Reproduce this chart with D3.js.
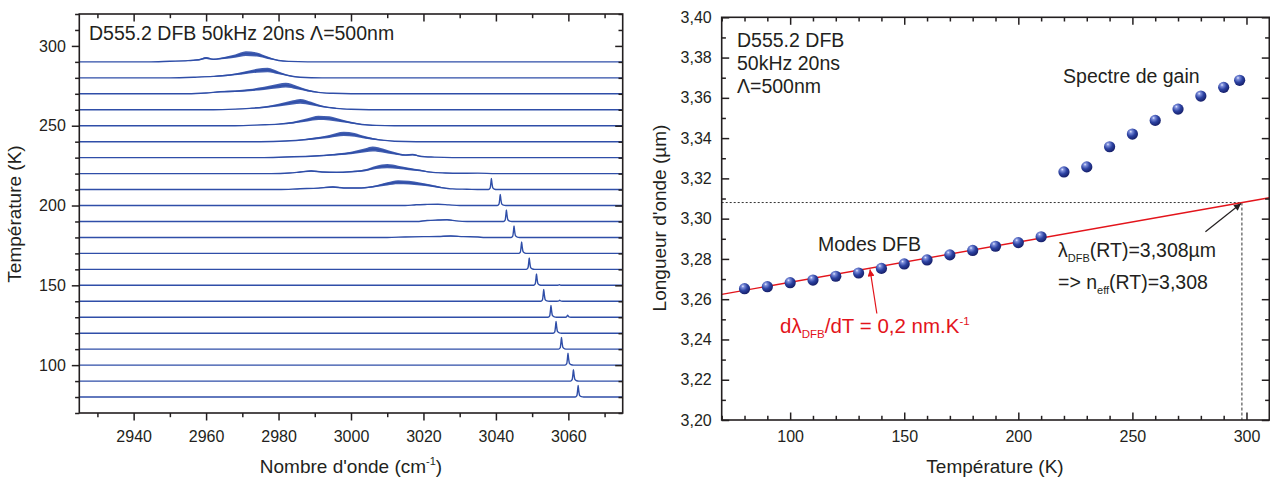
<!DOCTYPE html>
<html><head><meta charset="utf-8">
<script src="https://cdn.jsdelivr.net/npm/d3@7"></script>
<style>
body{margin:0;background:#fff}
text{font-family:"Liberation Sans",Arial,Helvetica,sans-serif;fill:#231f20}
</style></head>
<body><svg id="c" width="1270" height="477"></svg>
<script>
// ---------------- DATA (left panel: spectra vs temperature) ----------------
const spectraT = [80,90,100,110,120,130,140,150,160,170,180,190,200,210,220,230,240,250,260,270,280,290];
// DFB laser peaks: temperature, wavenumber (cm-1), height (K offset units)
const dfbPeakT   = [80,90,100,110,120,130,140,150,160,170,180,190,200,210];
const dfbPeakWn  = [3062.7,3061.4,3059.9,3058.1,3056.6,3055.2,3053.2,3051.2,3049.2,3047.1,3045.0,3042.9,3041.2,3038.75];
const dfbPeakAmp = [7.2,7.2,7.4,7.4,7.4,7.4,7.4,7.2,7.2,7.2,7.2,7.2,7.0,6.9];
// weak side modes
const sideT   = [130,140,150];
const sideWn  = [3059.8,3057.6,3057.5];
const sideAmp = [1.3,0.6,0.4];
// lineshape of a laser peak (offset cm-1, relative height)
const peakShape = [[-0.8,0],[-0.35,0.12],[-0.12,0.65],[0,1],[0.15,0.6],[0.4,0.15],[0.9,0.03],[1.5,0]];
// broad gain spectra envelopes [wavenumber, amplitude]
const band290 = [[2944,0],[2950,0.4],[2955,0.8],[2958,1.3],[2960,2.4],[2962,1.6],[2965,2.4],[2968,3.6],[2971,5.2],[2974,4.6],[2977,2.6],[2980,0.9],[2983,0.3],[2988,0]];
const band280 = [[2950,0],[2957,0.4],[2962,0.9],[2966,1.6],[2970,2.9],[2974,4.4],[2977,4.9],[2980,3.1],[2983,1.3],[2986,0.4],[2992,0]];
const band270 = [[2955,0],[2960,0.5],[2964,1.3],[2968,1.6],[2972,2.3],[2976,3.4],[2980,4.9],[2982,5.4],[2985,3.9],[2988,2.1],[2991,0.9],[2995,0.3],[3000,0]];
const band260 = [[2962,0],[2968,0.4],[2972,0.9],[2976,1.6],[2980,2.9],[2984,4.6],[2986,5.3],[2989,3.9],[2992,2.1],[2996,0.9],[3000,0.3],[3005,0]];
const band250 = [[2968,0],[2975,0.5],[2980,1.0],[2984,1.9],[2988,3.6],[2991,4.9],[2994,4.6],[2997,3.3],[3000,1.9],[3003,0.8],[3007,0.2],[3012,0]];
const band240 = [[2975,0],[2982,0.4],[2987,1.2],[2990,2.0],[2994,3.3],[2998,4.9],[3001,4.3],[3004,2.6],[3008,1.1],[3012,0.3],[3018,0]];
const band230 = [[2975,0],[2982,0.4],[2990,1.0],[2995,1.8],[3000,2.9],[3004,4.6],[3006,5.4],[3009,4.3],[3012,2.7],[3015,1.6],[3017,1.9],[3019,0.9],[3023,0.3],[3028,0]];
const band220 = [[2978,0],[2983,0.4],[2986,1.0],[2989,1.6],[2992,1.0],[2996,0.8],[3000,1.2],[3004,2.1],[3007,3.9],[3010,4.7],[3013,3.9],[3016,2.9],[3019,2.0],[3022,0.9],[3026,0.4],[3030,0.2],[3035,0.3],[3040,0]];
const band210 = [[2980,0],[2986,0.5],[2991,0.9],[2995,1.6],[2998,1.0],[3002,1.0],[3006,1.8],[3010,3.6],[3013,4.6],[3016,4.3],[3019,3.5],[3022,2.5],[3025,1.2],[3028,0.4],[3032,0.2],[3036,0]];
const band200 = [[3015,0],[3018,0.5],[3021,0.7],[3024,0.8],[3027,0.4],[3030,0]];
const band190 = [[3018,0],[3021,0.6],[3024,0.9],[3026.5,1.1],[3029,0.4],[3032,0]];
const band180 = [[3010,0],[3015,0.3],[3020,0.5],[3024,0.6],[3027.5,0.9],[3031,0.5],[3035,0.3],[3037,0]];
const leftXTicks = [2940,2960,2980,3000,3020,3040,3060];
const leftXMinor = [2930,2950,2970,2990,3010,3030,3050,3070];
const leftYTicks = [100,150,200,250,300];
const leftYMinor = [70,80,90,110,120,130,140,160,170,180,190,210,220,230,240,260,270,280,290,310,320];

// ---------------- DATA (right panel: wavelength vs temperature) ----------------
const dfbT = [80,90,100,110,120,130,140,150,160,170,180,190,200,210];
const dfbLambda = [3.2652,3.2662,3.2682,3.2695,3.2714,3.2730,3.2753,3.2775,3.2795,3.2820,3.2842,3.2863,3.2881,3.2910];
const gainT = [220,230,240,250,260,270,280,290,297];
const gainLambda = [3.3232,3.3257,3.3357,3.3420,3.3488,3.3544,3.3609,3.3652,3.3687];
const fitT = [70,310];
const fitLambda = [3.2624,3.3104];
const rtT = 298, rtLambda = 3.308;
const rightXTicks = [100,150,200,250,300];
const rightXMinor = [70,80,90,110,120,130,140,160,170,180,190,210,220,230,240,260,270,280,290,310];
const rightYTicks = [3.20,3.22,3.24,3.26,3.28,3.30,3.32,3.34,3.36,3.38,3.40];
const rightYMinor = [3.21,3.23,3.25,3.27,3.29,3.31,3.33,3.35,3.37,3.39];

// ---------------- DRAWING ----------------
const svg = d3.select('#c');
const INK = '#231f20', BLUE = '#2f4ea8', RED = '#e3141b';
const TICKFS = 16, TITLEFS = 19, ANNFS = 19.5;

const defs = svg.append('defs');
const grad = defs.append('radialGradient').attr('id','ball').attr('cx','38%').attr('cy','32%').attr('r','70%').attr('fx','35%').attr('fy','28%');
grad.append('stop').attr('offset','0%').attr('stop-color','#e8ecff');
grad.append('stop').attr('offset','18%').attr('stop-color','#7f90dc');
grad.append('stop').attr('offset','55%').attr('stop-color','#2c42a2');
grad.append('stop').attr('offset','100%').attr('stop-color','#151d66');
function marker(id, col){
  defs.append('marker').attr('id',id).attr('viewBox','0 0 10 10').attr('refX',10).attr('refY',5)
    .attr('markerWidth',10).attr('markerHeight',7).attr('markerUnits','userSpaceOnUse').attr('orient','auto')
    .append('path').attr('d','M0,0L10,5L0,10z').attr('fill',col);
}
marker('ahRed',RED); marker('ahBlack',INK);

function styleAxis(sel, fs){
  sel.attr('color',INK);
  sel.select('.domain').remove();
  sel.selectAll('.tick line').attr('stroke',INK).attr('stroke-width',1.5);
  sel.selectAll('.tick text').attr('font-size',fs).attr('fill',INK)
     .attr('font-family','"Liberation Sans",Arial,sans-serif');
}
function frame(g, x, y, c){
  const [x0,x1] = x.range(), [y0,y1] = y.range();
  const bs = c.bottomOut ? 1 : -1, ls = c.leftOut ? 1 : -1;
  g.append('rect').attr('x',x0).attr('y',y1).attr('width',x1-x0).attr('height',y0-y1)
    .attr('fill','none').attr('stroke',INK).attr('stroke-width',1.6);
  g.append('g').attr('transform',`translate(0,${y0})`)
    .call(d3.axisBottom(x).tickValues(c.xMajor).tickSize(7.5*bs).tickPadding(c.padX).tickFormat(c.fmtX)).call(styleAxis,TICKFS);
  g.append('g').attr('transform',`translate(0,${y0})`)
    .call(d3.axisBottom(x).tickValues(c.xMinor).tickSize(4.2*bs).tickFormat('')).call(styleAxis,TICKFS);
  g.append('g').attr('transform',`translate(0,${y1})`)
    .call(d3.axisTop(x).tickValues(c.xMajor).tickSize(-7.5).tickFormat('')).call(styleAxis,TICKFS);
  g.append('g').attr('transform',`translate(0,${y1})`)
    .call(d3.axisTop(x).tickValues(c.xMinor).tickSize(-4.2).tickFormat('')).call(styleAxis,TICKFS);
  g.append('g').attr('transform',`translate(${x0},0)`)
    .call(d3.axisLeft(y).tickValues(c.yMajor).tickSize(7.5*ls).tickPadding(c.padY).tickFormat(c.fmtY)).call(styleAxis,TICKFS);
  g.append('g').attr('transform',`translate(${x0},0)`)
    .call(d3.axisLeft(y).tickValues(c.yMinor).tickSize(4.2*ls).tickFormat('')).call(styleAxis,TICKFS);
  g.append('g').attr('transform',`translate(${x1},0)`)
    .call(d3.axisRight(y).tickValues(c.yMajor).tickSize(-7.5).tickFormat('')).call(styleAxis,TICKFS);
  g.append('g').attr('transform',`translate(${x1},0)`)
    .call(d3.axisRight(y).tickValues(c.yMinor).tickSize(-4.2).tickFormat('')).call(styleAxis,TICKFS);
}

// ===== Left panel =====
const xL = d3.scaleLinear().domain([2925,3075]).range([79.3,622.7]);
const yL = d3.scaleLinear().domain([70,320]).range([413,14]);
const gL = svg.append('g');
const bands = new Map([[290,band290],[280,band280],[270,band270],[260,band260],[250,band250],[240,band240],[230,band230],[220,band220],[210,band210],[200,band200],[190,band190],[180,band180]]);
const lineL = d3.line().curve(d3.curveMonotoneX);
spectraT.slice().reverse().forEach(T => {
  let pts = [[2925,0],[3075,0]];
  const band = bands.get(T) || [];
  pts = pts.concat(band);
  const pi = dfbPeakT.indexOf(T);
  if (pi >= 0) peakShape.forEach(([o,r]) => pts.push([dfbPeakWn[pi]+o, dfbPeakAmp[pi]*r]));
  sideT.forEach((t,i) => { if (t===T) peakShape.forEach(([o,r]) => pts.push([sideWn[i]+o, sideAmp[i]*r])); });
  pts.sort((a,b)=>a[0]-b[0]);
  pts = pts.filter((p,i)=> i===0 || p[0] !== pts[i-1][0]);
  // noise band of broad spectra (drawn as a filled envelope)
  if (band.length){
    const area = d3.area().curve(d3.curveMonotoneX)
      .x(d=>xL(d[0])).y0(d=>yL(T + d[1]*0.72)).y1(d=>yL(T + d[1]*1.28));
    gL.append('path').attr('d',area(band)).attr('fill',BLUE).attr('fill-opacity',0.9);
  }
  gL.append('path').attr('d',lineL(pts.map(d=>[xL(d[0]),yL(T+d[1])])))
    .attr('fill','none').attr('stroke',BLUE).attr('stroke-width',1.4).attr('stroke-linejoin','round');
});
frame(gL, xL, yL, {bottomOut:true,leftOut:true,xMajor:leftXTicks,xMinor:leftXMinor,yMajor:leftYTicks,yMinor:leftYMinor,
  padX:10,padY:6,fmtX:d3.format('d'),fmtY:d3.format('d')});
gL.append('text').attr('x',89).attr('y',40).attr('font-size',ANNFS).text('D555.2 DFB 50kHz 20ns Λ=500nm');
gL.append('text').attr('transform','translate(21,214) rotate(-90)').attr('text-anchor','middle').attr('font-size',TITLEFS).text('Température (K)');
const tL = gL.append('text').attr('x',351).attr('y',473).attr('text-anchor','middle').attr('font-size',TITLEFS);
tL.append('tspan').text("Nombre d'onde (cm");
tL.append('tspan').attr('dy',-8).attr('font-size',11).text('-1');
tL.append('tspan').attr('dy',8).text(')');

// ===== Right panel =====
const xR = d3.scaleLinear().domain([70,310]).range([721.7,1269.3]);
const yR = d3.scaleLinear().domain([3.20,3.40]).range([420,17.3]);
const gR = svg.append('g');
defs.append('clipPath').attr('id','clipR').append('rect')
  .attr('x',721.7).attr('y',17.3).attr('width',547.6).attr('height',402.7);
// dotted guides
gR.append('line').attr('x1',xR(70)).attr('x2',xR(rtT)).attr('y1',yR(rtLambda)).attr('y2',yR(rtLambda))
  .attr('stroke','#333').attr('stroke-width',1).attr('stroke-dasharray','2,2');
gR.append('line').attr('x1',xR(rtT)).attr('x2',xR(rtT)).attr('y1',yR(rtLambda)).attr('y2',yR(3.20))
  .attr('stroke','#333').attr('stroke-width',1).attr('stroke-dasharray','3,2');
// fit line
gR.append('line').attr('clip-path','url(#clipR)')
  .attr('x1',xR(fitT[0])).attr('y1',yR(fitLambda[0])).attr('x2',xR(fitT[1])).attr('y2',yR(fitLambda[1]))
  .attr('stroke',RED).attr('stroke-width',1.4);
// points
const allPts = dfbT.map((t,i)=>[t,dfbLambda[i]]).concat(gainT.map((t,i)=>[t,gainLambda[i]]));
gR.selectAll('circle.pt').data(allPts).join('circle').attr('class','pt')
  .attr('cx',d=>xR(d[0])).attr('cy',d=>yR(d[1])).attr('r',5.6).attr('fill','url(#ball)');
frame(gR, xR, yR, {bottomOut:false,leftOut:false,xMajor:rightXTicks,xMinor:rightXMinor,yMajor:rightYTicks,yMinor:rightYMinor,
  padX:11,padY:10,fmtX:d3.format('d'),fmtY:d=>d.toFixed(2).replace('.',',')});
// arrows
gR.append('line').attr('x1',xR(138)).attr('y1',yR(3.2529)).attr('x2',xR(135)).attr('y2',yR(3.2748))
  .attr('stroke',RED).attr('stroke-width',1.2).attr('marker-end','url(#ahRed)');
gR.append('line').attr('x1',xR(282)).attr('y1',yR(3.2935)).attr('x2',xR(297.6)).attr('y2',yR(3.3075))
  .attr('stroke',INK).attr('stroke-width',1.2).attr('marker-end','url(#ahBlack)');
// annotations
[['D555.2 DFB',47],['50kHz 20ns',70],['Λ=500nm',93]].forEach(([s,yy])=>
  gR.append('text').attr('x',737).attr('y',yy).attr('font-size',ANNFS).text(s));
gR.append('text').attr('x',xR(219.6)).attr('y',yR(3.3672)).attr('font-size',ANNFS).text('Spectre de gain');
gR.append('text').attr('x',xR(112.2)).attr('y',yR(3.2839)).attr('font-size',ANNFS).text('Modes DFB');
const a1 = gR.append('text').attr('x',xR(217.4)).attr('y',yR(3.2809)).attr('font-size',ANNFS);
a1.append('tspan').text('λ');
a1.append('tspan').attr('dy',5).attr('font-size',11).text('DFB');
a1.append('tspan').attr('dy',-5).text('(RT)=3,308µm');
const a2 = gR.append('text').attr('x',xR(217.4)).attr('y',yR(3.265)).attr('font-size',ANNFS);
a2.append('tspan').text('=> n');
a2.append('tspan').attr('dy',5).attr('font-size',11).text('eff');
a2.append('tspan').attr('dy',-5).text('(RT)=3,308');
const a3 = gR.append('text').attr('x',xR(95.6)).attr('y',yR(3.2432)).attr('font-size',20.5).attr('fill',RED);
a3.append('tspan').attr('fill',RED).text('dλ');
a3.append('tspan').attr('fill',RED).attr('dy',5).attr('font-size',11.5).text('DFB');
a3.append('tspan').attr('fill',RED).attr('dy',-5).text('/dT = 0,2 nm.K');
a3.append('tspan').attr('fill',RED).attr('dy',-8).attr('font-size',11.5).text('-1');
gR.append('text').attr('transform','translate(666,218) rotate(-90)').attr('text-anchor','middle').attr('font-size',TITLEFS).text("Longueur d'onde (µm)");
gR.append('text').attr('x',995).attr('y',473).attr('text-anchor','middle').attr('font-size',TITLEFS).text('Température (K)');
</script></body></html>
